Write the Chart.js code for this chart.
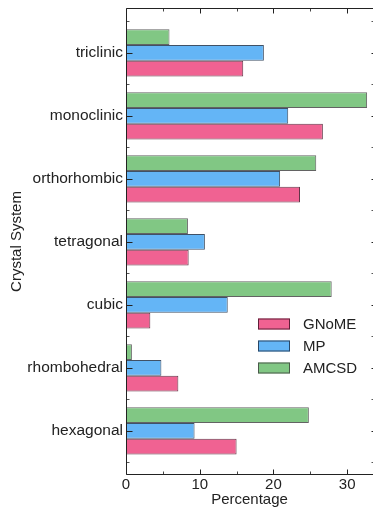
<!DOCTYPE html>
<html>
<head>
<meta charset="utf-8">
<script src="https://cdn.jsdelivr.net/npm/chart.js@4/dist/chart.umd.min.js"></script>
<style>
  html, body { margin: 0; padding: 0; background: #fff; }
  #wrap { width: 373px; height: 512px; }
</style>
</head>
<body>
<div id="wrap"><canvas id="c" width="373" height="512"></canvas></div>
<script>
// Crystal system shares (%) per database
const categories = ['triclinic', 'monoclinic', 'orthorhombic', 'tetragonal', 'cubic', 'rhombohedral', 'hexagonal'];
const gnome = [15.9, 26.7, 23.6, 8.5, 3.3, 7.1, 15.0];
const mp    = [18.7, 22.0, 20.9, 10.7, 13.8, 4.8, 9.3];
const amcsd = [5.9, 32.7, 25.8, 8.4, 27.9, 0.8, 24.8];
const xTicks = [0, 10, 20, 30];
const xMinorTicks = [5, 15, 25];

const seriesNames = ['GNoME', 'MP', 'AMCSD'];
const fills   = ['#F06292', '#64B5F6', '#81C784'];
const borders = ['rgba(70,20,40,0.85)', 'rgba(30,50,75,0.85)', 'rgba(60,60,60,0.8)'];

const toPoints = arr => arr.map((v, i) => ({ x: v, y: i }));

// drawn top-to-bottom inside each group: AMCSD, MP, GNoME
const datasets = [
  { label: seriesNames[2], data: toPoints(amcsd), backgroundColor: fills[2], borderColor: borders[2] },
  { label: seriesNames[1], data: toPoints(mp),    backgroundColor: fills[1], borderColor: borders[1] },
  { label: seriesNames[0], data: toPoints(gnome), backgroundColor: fills[0], borderColor: borders[0] }
].map(d => Object.assign(d, { borderWidth: 1, borderSkipped: 'start', categoryPercentage: 0.75, barPercentage: 1.0 }));

Chart.defaults.font.family = '"Liberation Sans", Arial, sans-serif';
Chart.defaults.color = '#222';

// frame, inward tick marks and the in-plot legend
const framePlugin = {
  id: 'frame',
  afterDraw(chart) {
    const { ctx, chartArea: a, scales: { x, y } } = chart;
    ctx.save();
    ctx.lineWidth = 1;
    const L = Math.round(a.left) + 0.5, R = Math.round(a.right) - 0.5;
    const T = Math.round(a.top) + 0.5, B = Math.round(a.bottom) - 0.5;

    // x ticks on bottom and top spines
    const xt = (v, len, col) => {
      const px = Math.round(x.getPixelForValue(v)) + 0.5;
      ctx.strokeStyle = col;
      ctx.beginPath();
      ctx.moveTo(px, B); ctx.lineTo(px, B - len);
      ctx.moveTo(px, T); ctx.lineTo(px, T + len);
      ctx.stroke();
    };
    xTicks.forEach(v => xt(v, 5, '#222'));
    xMinorTicks.forEach(v => xt(v, 3, '#444'));

    // y ticks: majors at categories, minors between them
    const yt = (v, len, col) => {
      const py = Math.round(y.getPixelForValue(v)) + 0.5;
      ctx.strokeStyle = col;
      ctx.beginPath();
      ctx.moveTo(L, py); ctx.lineTo(L + len, py);
      ctx.moveTo(R + 2, py); ctx.lineTo(R - 1, py);
      ctx.stroke();
    };
    categories.forEach((_, i) => yt(i, 6, '#222'));
    for (let i = 0; i <= categories.length; i++) yt(i - 0.5, 3, '#555');

    // spines
    ctx.strokeStyle = '#222';
    ctx.beginPath();
    ctx.moveTo(L, T); ctx.lineTo(L, B);
    ctx.moveTo(L, T); ctx.lineTo(a.right, T);
    ctx.moveTo(L, B); ctx.lineTo(a.right, B);
    ctx.stroke();

    // legend
    ctx.font = '15px "Liberation Sans", Arial, sans-serif';
    ctx.textBaseline = 'middle';
    ctx.textAlign = 'left';
    seriesNames.forEach((name, k) => {
      const cy = 324 + k * 22;
      ctx.fillStyle = fills[k];
      ctx.fillRect(258, cy - 5.5, 32, 11);
      ctx.strokeStyle = borders[k];
      ctx.strokeRect(258.5, cy - 5, 31, 10);
      ctx.fillStyle = '#222';
      ctx.fillText(name, 303, cy + 1);
    });
    ctx.restore();
  }
};

new Chart(document.getElementById('c'), {
  type: 'bar',
  data: { datasets },
  options: {
    indexAxis: 'y',
    responsive: false,
    animation: false,
    layout: { padding: { top: 8, left: 0, right: 0, bottom: 0 } },
    plugins: { legend: { display: false }, tooltip: { enabled: false } },
    scales: {
      x: {
        type: 'linear',
        position: 'bottom',
        min: 0,
        max: 33.5,
        offset: false,
        afterBuildTicks: s => { s.ticks = xTicks.map(v => ({ value: v })); },
        afterFit: s => { s.height = 37; s.paddingLeft = 0; s.paddingRight = 0; },
        grid: { display: false, drawTicks: false },
        border: { display: false },
        ticks: { padding: 1, font: { size: 15 }, color: '#222' },
        title: { display: true, text: 'Percentage', font: { size: 15 }, color: '#222', padding: { top: 0, bottom: 3 } }
      },
      y: {
        type: 'linear',
        position: 'left',
        reverse: true,
        offset: false,
        min: -0.714,
        max: 6.70,
        afterBuildTicks: s => { s.ticks = categories.map((_, i) => ({ value: i })); },
        afterFit: s => { s.width = 126; s.paddingTop = 0; s.paddingBottom = 0; },
        grid: { display: false, drawTicks: false, offset: false },
        border: { display: false },
        ticks: { padding: 3, autoSkip: false, font: { size: 15.5 }, color: '#222', callback: v => categories[v] },
        title: { display: true, text: 'Crystal System', font: { size: 15 }, color: '#222', padding: { top: 8, bottom: 0 } }
      }
    }
  },
  plugins: [framePlugin]
});
</script>
</body>
</html>
